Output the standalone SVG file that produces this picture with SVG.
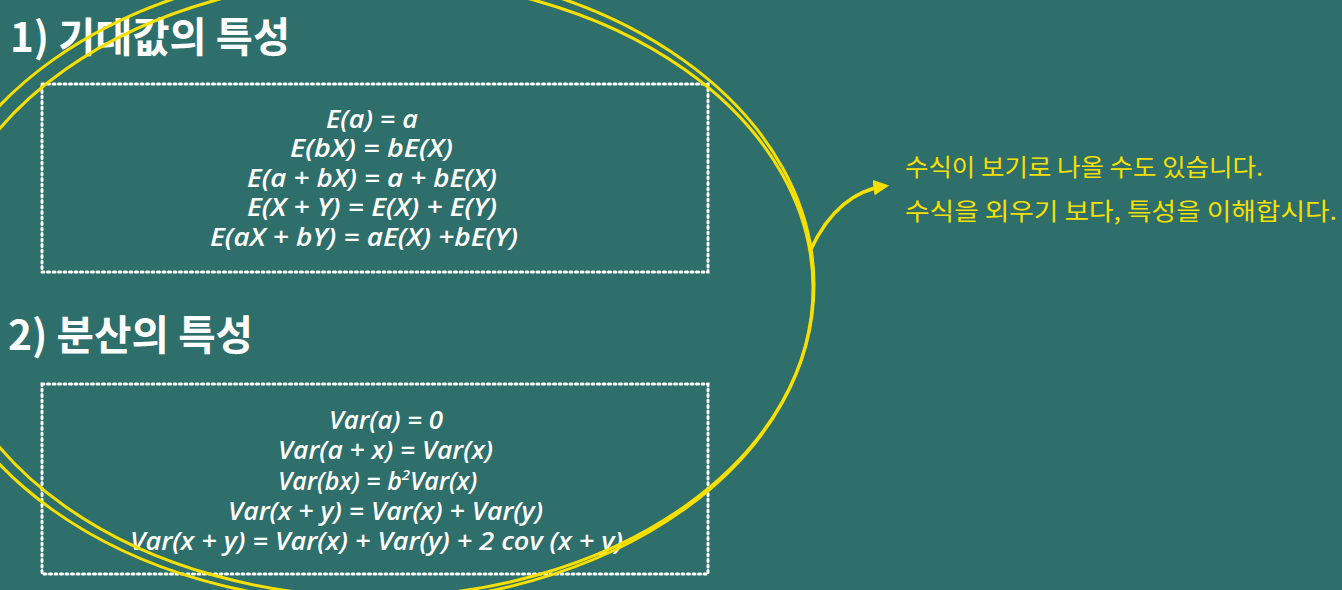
<svg xmlns="http://www.w3.org/2000/svg" width="1342" height="590" viewBox="0 0 1342 590">
<defs>
<style>
.title{font-family:"Noto Sans CJK KR","Noto Sans",sans-serif;font-weight:700;font-size:41px;fill:#ffffff}
.f{font-family:"Open Sans","Noto Sans",sans-serif;font-style:italic;font-weight:600;font-size:25px;fill:#ffffff}
.box{fill:none;stroke:#ffffff;stroke-width:3;stroke-dasharray:2 3.5;stroke-linecap:round}
.ring{fill:none;stroke:#f7e000;stroke-width:3}
.note{font-family:"Noto Sans CJK KR",sans-serif;font-size:24px;fill:#f7e000}
</style>
<marker id="ah" viewBox="0 0 10 10" refX="8" refY="5" markerWidth="4.5" markerHeight="4.5" orient="auto">
<path d="M0,0 L10,5 L0,10 z" fill="#f7e000"/>
</marker>
</defs>
<rect width="1342" height="590" fill="#2e6e6b"/>

<g id="node-expect">
<text class="title" x="10" y="52" textLength="280" lengthAdjust="spacingAndGlyphs">1) 기대값의 특성</text>
<rect class="box" x="42" y="84" width="666" height="188"/>
<text class="f" x="326" y="128" textLength="92" lengthAdjust="spacingAndGlyphs">E(a) = a</text>
<text class="f" x="290" y="157" textLength="163" lengthAdjust="spacingAndGlyphs">E(bX) = bE(X)</text>
<text class="f" x="247" y="187" textLength="250" lengthAdjust="spacingAndGlyphs">E(a + bX) = a + bE(X)</text>
<text class="f" x="247" y="216" textLength="250" lengthAdjust="spacingAndGlyphs">E(X + Y) = E(X) + E(Y)</text>
<text class="f" x="210" y="246" textLength="308" lengthAdjust="spacingAndGlyphs">E(aX + bY) = aE(X) +bE(Y)</text>
</g>

<g id="node-variance">
<text class="title" x="8" y="350" textLength="245" lengthAdjust="spacingAndGlyphs">2) 분산의 특성</text>
<rect class="box" x="42" y="384" width="666" height="190"/>
<text class="f" x="329" y="429" textLength="114" lengthAdjust="spacingAndGlyphs">Var(a) = 0</text>
<text class="f" x="278" y="459" textLength="215" lengthAdjust="spacingAndGlyphs">Var(a + x) = Var(x)</text>
<text class="f" x="278" y="490">Var(bx) = b<tspan font-size="15" dy="-10">2</tspan><tspan dy="10">Var(x)</tspan></text>
<text class="f" x="228" y="520" textLength="315" lengthAdjust="spacingAndGlyphs">Var(x + y) = Var(x) + Var(y)</text>
<text class="f" x="130" y="550" textLength="493" lengthAdjust="spacingAndGlyphs">Var(x + y) = Var(x) + Var(y) + 2 cov (x + y)</text>
</g>

<g id="node-highlight">
<ellipse class="ring" cx="368" cy="285" rx="446" ry="318"/>
<ellipse class="ring" cx="375" cy="288" rx="438" ry="309"/>
</g>

<g id="node-note">
<text class="note" x="905" y="176" textLength="358" lengthAdjust="spacingAndGlyphs">수식이 보기로 나올 수도 있습니다.</text>
<text class="note" x="905" y="220" textLength="432" lengthAdjust="spacingAndGlyphs">수식을 외우기 보다, 특성을 이해합시다.</text>
</g>

<g id="connectors">
<path d="M811,249 Q838,192 886,186" fill="none" stroke="#f7e000" stroke-width="3.5" marker-end="url(#ah)"/>
</g>
</svg>
